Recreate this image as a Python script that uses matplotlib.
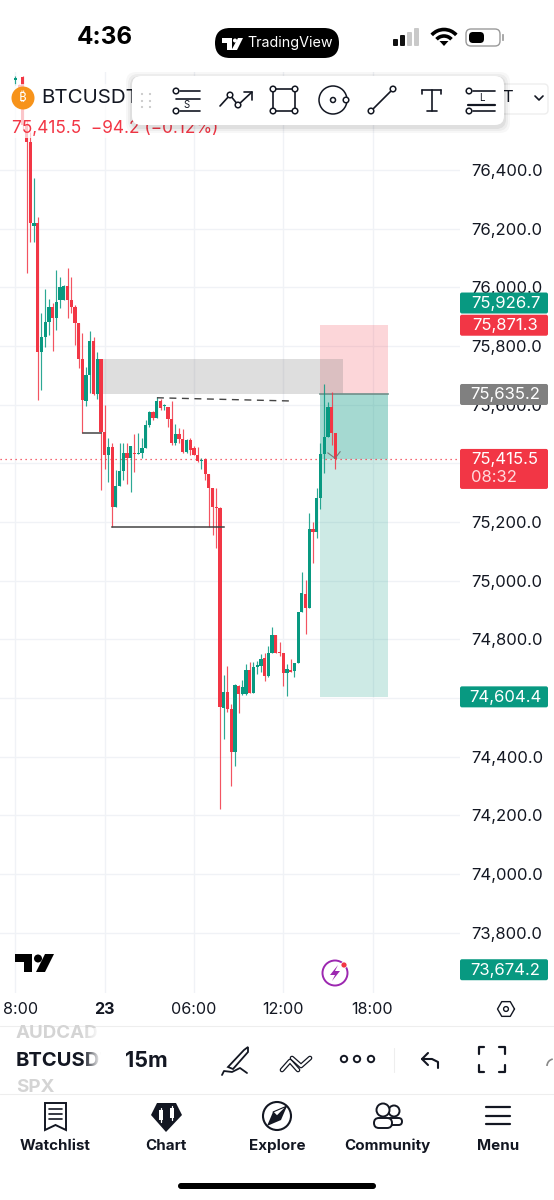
import matplotlib
matplotlib.use('Agg')
import matplotlib.pyplot as plt
from matplotlib.patches import FancyBboxPatch, Circle, Polygon, Rectangle, Arc
import numpy as np

plt.rcParams['font.family'] = ['Inter', 'DejaVu Sans']

# 15m candles, hours from the 23rd 00:00 are index * 0.25
first_index = -24
opens = [76707, 76690, 76717, 76554, 76496, 76210, 76220, 75780, 75831, 75882, 75933, 75896, 75957, 75957, 76005,
         75957, 75933, 75879, 75756, 75613, 75702, 75818, 75637, 75756, 75507, 75429, 75456, 75252, 75323, 75374,
         75436, 75419, 75436, 75432, 75436, 75453, 75531, 75575, 75555, 75613, 75596, 75593, 75552, 75470, 75500,
         75483, 75439, 75480, 75453, 75429, 75408, 75415, 75364, 75316, 75252, 75248, 74566, 74621, 74563, 74416,
         74641, 74614, 74614, 74696, 74618, 74706, 74710, 74737, 74675, 74754, 74815, 74757, 74754, 74686, 74696,
         74693, 74720, 74894, 74955, 74907, 75177, 75166, 75282, 75432, 75490, 75593, 75504]
highs = [76721, 76695, 76721, 76570, 76530, 76373, 76240, 75913, 75995, 75961, 75947, 76060, 76036, 76008, 76066,
         76036, 75940, 75879, 75845, 75729, 75852, 75831, 75780, 75756, 75599, 75487, 75470, 75378, 75470, 75470,
         75470, 75460, 75500, 75504, 75487, 75548, 75579, 75579, 75627, 75620, 75603, 75593, 75613, 75535, 75521,
         75518, 75483, 75487, 75460, 75456, 75419, 75419, 75364, 75316, 75316, 75252, 74679, 74710, 74580, 74648,
         74645, 74662, 74716, 74723, 74723, 74727, 74751, 74754, 74778, 74843, 74815, 74791, 74754, 74716, 74733,
         74720, 74894, 75030, 75003, 75231, 75201, 75316, 75470, 75671, 75610, 75644, 75504]
lows = [76690, 76660, 76537, 76049, 76155, 76155, 75616, 75650, 75797, 75838, 75783, 75855, 75930, 75957, 75896,
        75913, 75804, 75725, 75504, 75596, 75640, 75633, 75620, 75310, 75381, 75337, 75183, 75252, 75323, 75344,
        75330, 75303, 75371, 75432, 75419, 75453, 75524, 75548, 75555, 75582, 75582, 75524, 75463, 75463, 75470,
        75436, 75436, 75429, 75429, 75405, 75381, 75344, 75183, 75156, 75112, 74222, 74461, 74553, 74301, 74369,
        74549, 74611, 74611, 74618, 74618, 74682, 74689, 74658, 74672, 74754, 74754, 74744, 74641, 74607, 74689,
        74672, 74720, 74894, 74819, 74907, 75061, 75146, 75245, 75367, 75490, 75463, 75381]
closes = [76714, 76680, 76554, 76496, 76220, 76220, 75780, 75831, 75882, 75933, 75896, 75950, 76002, 76005, 75957,
          75933, 75879, 75756, 75616, 75702, 75818, 75637, 75756, 75507, 75429, 75456, 75252, 75323, 75374, 75436,
          75419, 75460, 75432, 75436, 75453, 75531, 75575, 75555, 75613, 75589, 75599, 75552, 75470, 75500, 75483,
          75439, 75480, 75446, 75429, 75408, 75412, 75364, 75316, 75252, 75248, 74570, 74621, 74563, 74416, 74645,
          74614, 74638, 74696, 74618, 74706, 74713, 74733, 74675, 74754, 74815, 74754, 74754, 74686, 74699, 74689,
          74720, 74894, 74958, 74907, 75177, 75166, 75282, 75432, 75490, 75593, 75504, 75415.5]

# 75,400 and 74,600 sit fully under their price tags so they stay blank
price_ticks = [76400, 76200, 76000, 75800, 75600, 75400, 75200, 75000, 74800, 74600, 74400, 74200, 74000, 73800]
hidden_ticks = [75400, 74600]
time_ticks = [-6, 0, 6, 12, 18]
time_labels = ['8:00', '23', '06:00', '12:00', '18:00']

# drawings on the chart
last_price = 75415.5
entry = 75635.2
stop = 75871.3
target = 74604.4
pos_start, pos_end = 14.47, 19.03
zone_start, zone_end = -0.25, 16.0
zone_low, zone_high = 75636, 75756
zone_lines = [([-1.49, -0.25], [75504, 75504]), ([0.51, 8.02], [75183, 75183])]
dash_line = ([3.51, 12.52], [75624, 75613])

# (price, shown at, text, colour) tags get pushed apart when they would collide
tags = [(75926.7, 75947, '75,926.7', '#089981'), (75871.3, 75871.3, '75,871.3', '#F23645'),
        (75635.2, 75635.2, '75,635.2', '#808080'), (74604.4, 74604.4, '74,604.4', '#089981'),
        (73674.2, 73674.2, '73,674.2', '#089981')]

GREEN = '#089981'
RED = '#F23645'
INK = '#131722'

fig = plt.figure(figsize=(5.54, 12), dpi=100, facecolor='white')

# chart pane, x 0-460 px, y 72-993 px
ax = fig.add_axes([0, 1 - 993 / 1200, 460 / 554, 921 / 1200])
ax.set_xlim(-104.7 / 14.88, (460 - 104.7) / 14.88)
ax.set_ylim(76980 - 3.409 * 993, 76980 - 3.409 * 72)
for s in ax.spines.values():
    s.set_visible(False)
ax.set_xticks(time_ticks)
ax.set_xticklabels([])
ax.set_yticks(price_ticks)
ax.set_yticklabels(['' if p in hidden_ticks else f'{p:,.1f}' for p in price_ticks], fontsize=12, color=INK)
ax.yaxis.tick_right()
ax.tick_params(length=0, pad=8)
ax.grid(color='#f0f2f6', linewidth=1)
ax.set_axisbelow(True)

# position boxes
ax.fill_between([pos_start, pos_end], entry, stop, color=RED, alpha=0.2, linewidth=0)
ax.fill_between([pos_start, pos_end], target, entry, color=GREEN, alpha=0.2, linewidth=0)
ax.fill_between([pos_start, pos_end], last_price, entry, color=GREEN, alpha=0.2, linewidth=0)
ax.plot([pos_start, pos_end], [entry, entry], color='#6f8f8a', lw=1.2)
ax.fill_between([zone_start, zone_end], zone_low, zone_high, color='#808080', alpha=0.26, linewidth=0)

# candles
n = len(opens)
t = (first_index + np.arange(n)) * 0.25
o, h, l, c = [np.array(a, dtype=float) for a in (opens, highs, lows, closes)]
colors = [GREEN if cc >= oo else RED for oo, cc in zip(o, c)]
ax.vlines(t, l, h, colors=colors, linewidth=0.85, alpha=0.85, zorder=3)
ax.bar(t, np.maximum(np.abs(c - o), 3), bottom=np.minimum(o, c), width=0.22, color=colors, linewidth=0, zorder=4)

# lines drawn by hand
for xs, ys in zone_lines:
    ax.plot(xs, ys, color='#444444', lw=1.1, zorder=5)
ax.plot(dash_line[0], dash_line[1], color='#444444', lw=1.0, dashes=(5, 4), zorder=5)
ax.axhline(last_price, color=RED, lw=0.9, ls=(0, (1, 3)), zorder=2)

# little arrow under last candle
ax.plot([15.0, 15.45], [75436, 75419], color='#777777', lw=0.8, zorder=5)
ax.plot([15.82, 15.55], [75440, 75422], color='#777777', lw=0.8, zorder=5)

# everything else in pixel coordinates
ui = fig.add_axes([0, 0, 1, 1], facecolor='none', zorder=5)
ui.set_xlim(0, 554)
ui.set_ylim(1200, 0)
ui.axis('off')


def py(price):
    return (76980 - price) / 3.409


def px(hour):
    return 104.7 + hour * 14.88


def box(x0, y0, x1, y1, color, r=2.0, **kw):
    p = FancyBboxPatch((x0 + r, y0 + r), x1 - x0 - 2 * r, y1 - y0 - 2 * r,
                       boxstyle=f'round,pad={r},rounding_size={r}', facecolor=color, edgecolor='none', **kw)
    ui.add_patch(p)
    return p


def line(xs, ys, lw=1.2, color=INK, **kw):
    ui.plot(xs, ys, color=color, lw=lw, solid_capstyle='round', **kw)


def ring(x, y, r, lw=1.1, color=INK, fc='white', z=8):
    ui.add_patch(Circle((x, y), r, facecolor=fc, edgecolor=color, lw=lw, zorder=z))


# ---- price tags
for price, shown, text, col in tags:
    y = py(shown)
    box(460, y - 10.5, 548, y + 10.5, col, zorder=6)
    ui.text(505.5, y + 0.3, text, color='white', fontsize=12, ha='center', va='center', zorder=7)
y = py(last_price)
box(460, y - 10, 548, y + 30, RED, zorder=6)
ui.text(471, y + 0.5, '75,415.5', color='white', fontsize=12, ha='left', va='center', zorder=7)
ui.text(471, y + 18.5, '08:32', color='#ffd9dd', fontsize=12, ha='left', va='center', zorder=7)

# ---- status bar
ui.text(105, 38, '4:36', fontsize=17.5, fontweight='bold', color='black', ha='center', va='center')
box(215, 28, 339, 58, 'black', r=15)
ui.add_patch(Polygon([(222, 38), (232, 38), (232, 50), (227, 50), (227, 43), (222, 43)], fc='white', ec='none'))
ui.add_patch(Circle((235, 40.5), 2, fc='white', ec='none'))
ui.add_patch(Polygon([(238, 38), (243, 38), (237, 50), (231.5, 50)], fc='white', ec='none'))
ui.text(290.5, 43.5, 'TradingView', fontsize=10.3, color='white', ha='center', va='center')
for bx, top, col in [(393, 39, '#111111'), (400, 35, '#111111'), (407, 32, '#c9c9c9'), (414, 28, '#c9c9c9')]:
    box(bx, top, bx + 5, 46, col, r=1)
ui.add_patch(Arc((444, 46), 33, 33, theta1=222, theta2=318, color='black', lw=2.6))
ui.add_patch(Arc((444, 46), 20, 20, theta1=222, theta2=318, color='black', lw=2.6))
ui.add_patch(Polygon([(444, 46), (439.5, 41), (448.5, 41)], fc='black', ec='none'))
ui.add_patch(FancyBboxPatch((466, 29), 34, 17, boxstyle='round,pad=0,rounding_size=5', fc='white', ec='#9a9a9a', lw=1))
box(469, 32, 484, 43, 'black', r=4)
box(502, 34, 504, 41, '#aaaaaa', r=0.8)

# ---- symbol header, the candles show through it
ui.add_patch(Rectangle((0, 84), 134, 54, fc='white', alpha=0.72, ec='none', zorder=2))
ui.add_patch(Circle((23, 98), 11.5, fc='#F7931A', ec='none', zorder=3))
ui.text(23, 98, '₿', fontsize=9.5, color='white', fontweight='bold', family=['Noto Sans', 'Roboto', 'Open Sans', 'Inter', 'DejaVu Sans'],
        ha='center', va='center', zorder=4)
ui.text(41, 98, 'BTCUSDT', fontsize=14.8, color=INK, va='center', zorder=3)
ui.text(12, 128, '75,415.5  −94.2 (−0.12%)', fontsize=12.4, color=RED, va='center', zorder=3)

# interval button behind the toolbar
ui.add_patch(FancyBboxPatch((490, 84), 58, 30, boxstyle='round,pad=0,rounding_size=4', fc='white', ec='#eeeeee', lw=1))
ui.text(508, 98, 'T', fontsize=12, color=INK, va='center', ha='center')
line([535, 539, 543], [96, 100, 96], lw=1.2)

# ---- floating toolbar
for grow, a in [(6, 0.03), (4, 0.04), (2, 0.06)]:
    box(132 - grow, 76 - grow + 2, 504 + grow, 125 + grow + 2, 'black', r=10, alpha=a, zorder=4)
box(132, 76, 504, 125, 'white', r=9, zorder=5)
for dx in (142, 150):
    for dy in (94, 101, 107):
        ui.add_patch(Circle((dx, dy), 1.1, fc='#c8c8c8', ec='none', zorder=8))


def tline(xs, ys, lw=1.2):
    line(xs, ys, lw=lw, zorder=7)


# S lines
tline([180, 200], [91, 91]); tline([176, 200], [99, 99]); tline([180, 200], [111, 111])
ring(176, 91, 2.8); ring(176, 111, 2.8)
ui.text(187, 105, 'S', fontsize=7, color=INK, ha='center', va='center', zorder=8)
# trend path
tline([220, 230, 238, 252], [106, 95, 105, 92]); tline([244, 252, 252], [92, 92, 100])
ring(230, 95, 2.8); ring(238, 105, 2.8)
# rectangle
ui.add_patch(Rectangle((273, 89), 22, 22, fc='none', ec=INK, lw=1.2, zorder=7))
for cx, cy in [(273, 89), (295, 89), (273, 111), (295, 111)]:
    ring(cx, cy, 2.8)
# circle
ring(333, 100, 14, z=7); ring(333, 100, 2.5); ring(346, 100, 2.8)
# line
tline([371, 393], [111, 89]); ring(371, 111, 2.8); ring(393, 89, 2.8)
# T
tline([422, 441], [90, 90]); tline([432, 432], [90, 111]); tline([427, 437], [111, 111])
tline([422, 422], [90, 94]); tline([441, 441], [90, 94])
# L lines
tline([473, 495], [91, 91]); tline([468, 495], [105, 105], lw=1.6); tline([473, 495], [111, 111])
ring(469, 91, 2.8); ring(469, 111, 2.8)
ui.text(482, 98, 'L', fontsize=7, color=INK, ha='center', va='center', zorder=8)

# ---- watermark + alert icon
ui.add_patch(Polygon([(15, 954), (32, 954), (32, 972), (24, 972), (24, 962), (15, 962)], fc='black', ec='none'))
ui.add_patch(Circle((38, 958.5), 4, fc='black', ec='none'))
ui.add_patch(Polygon([(45, 954), (54, 954), (45, 972), (36, 972)], fc='black', ec='none'))
ring(335, 973, 12.5, lw=1.4, color='#9C27B0', fc='white')
ui.add_patch(Polygon([(338, 965), (330, 975), (335, 975), (332, 981), (340, 971), (335, 971)], fc='#9C27B0', ec='none', zorder=9))
ui.add_patch(Circle((344, 965), 3, fc=RED, ec='white', lw=0.5, zorder=10))

# ---- time axis
for hour, label in zip(time_ticks, time_labels):
    if label == '8:00':
        ui.text(3, 1009, label, fontsize=11.6, color=INK, ha='left', va='center')
    elif label == '23':
        ui.text(px(hour), 1009, label, fontsize=11.6, fontweight='bold', color=INK, ha='center', va='center')
    else:
        ui.text(px(hour), 1009, label, fontsize=11.6, color=INK, ha='center', va='center')
hx = 506 + 8.5 * np.cos(np.arange(7) * np.pi / 3)
hy = 1009 + 8.5 * np.sin(np.arange(7) * np.pi / 3)
line(hx, hy, lw=1.0)
ring(506, 1009, 2.4, lw=1.0)

# ---- bottom toolbar
line([0, 554], [1026, 1026], lw=0.8, color='#eeeeee')
line([0, 554], [1094, 1094], lw=0.8, color='#eeeeee')
ui.text(16, 1034, 'AUDCAD', fontsize=13.5, fontweight='bold', color='#d4d4d4', va='center')
ui.text(16, 1087, 'SPX', fontsize=13.5, fontweight='bold', color='#d4d4d4', va='center')
ui.text(16, 1061, 'BTCUSDT', fontsize=14.5, fontweight='bold', color=INK, va='center')
ui.add_patch(Rectangle((101, 1028), 20, 64, fc='white', ec='none', zorder=3))
fade = np.ones((1, 24, 4))
fade[0, :, 3] = np.linspace(0, 1, 24)
ui.imshow(fade, extent=(83, 101, 1092, 1028), aspect='auto', zorder=3)
ui.set_xlim(0, 554)
ui.set_ylim(1200, 0)
ui.text(125, 1061, '15m', fontsize=15.5, fontweight='bold', color=INK, va='center', zorder=4)

# pen
ui.add_patch(Polygon([(228, 1067), (244, 1050), (248, 1047), (248, 1052), (233, 1069)], fc='white', ec=INK, lw=1.3))
line([222, 224, 232, 240, 247], [1075, 1071, 1072, 1068, 1073], lw=1.3)
# double chevrons
line([282, 290, 298], [1070, 1061, 1070], lw=3.4)
line([282, 290, 298], [1070, 1061, 1070], lw=1.6, color='white')
line([292, 301, 310], [1058, 1066, 1058], lw=3.4)
line([292, 301, 310], [1058, 1066, 1058], lw=1.6, color='white')
for cx in (344, 357, 371):
    ring(cx, 1059, 3.2, lw=1.4)
line([394, 394], [1048, 1072], lw=0.8, color='#eeeeee')
# undo
line([428, 422, 428], [1053, 1059, 1065], lw=1.5)
line([422, 432, 438, 438], [1059, 1059, 1062, 1068], lw=1.5)
# full screen corners
for xs, ys in [([479, 479, 484], [1054, 1047, 1047]), ([499, 505, 505], [1047, 1047, 1054]),
               ([479, 479, 484], [1065, 1072, 1072]), ([499, 505, 505], [1072, 1072, 1065])]:
    line(xs, ys, lw=1.6)
ui.add_patch(Arc((554, 1066), 14, 14, theta1=180, theta2=260, color='#888888', lw=1.2))

# ---- nav bar
ui.add_patch(Polygon([(45, 1103), (66, 1103), (66, 1130), (55.5, 1125), (45, 1130)], fc='white', ec=INK, lw=1.4))
for ly in (1109, 1114, 1119):
    line([49, 62], [ly, ly], lw=1.2)
ui.add_patch(Polygon([(157, 1103), (176, 1103), (182, 1115), (166, 1132), (151, 1115)], fc=INK, ec='none'))
for cx, y0, y1 in [(161, 1110, 1120), (172, 1108, 1118)]:
    line([cx, cx], [y0 - 2, y1 + 2], lw=0.9, color='white')
    ui.add_patch(Rectangle((cx - 2, y0), 4, y1 - y0, fc='white', ec='none'))
ring(277, 1116, 14, lw=1.5, z=3)
ui.add_patch(Polygon([(287, 1106), (281, 1120), (267, 1126), (273, 1112)], fc=INK, ec='none', zorder=4))
ui.add_patch(Polygon([(287, 1106), (277, 1116), (273, 1112)], fc='white', ec=INK, lw=0.8, zorder=5))
ring(394, 1111, 5.5, lw=1.4, z=3)
ring(383, 1110, 6.5, lw=1.4, z=4)
ui.add_patch(FancyBboxPatch((387, 1118), 15, 7, boxstyle='round,pad=0,rounding_size=3.5', fc='white', ec=INK, lw=1.4, zorder=3))
ui.add_patch(FancyBboxPatch((374, 1118), 18, 10, boxstyle='round,pad=0,rounding_size=5', fc='white', ec=INK, lw=1.4, zorder=4))
for ly in (1107, 1116, 1124):
    line([486, 510], [ly, ly], lw=1.6)
for lx, label in [(55, 'Watchlist'), (166, 'Chart'), (277, 'Explore'), (387, 'Community'), (498, 'Menu')]:
    ui.text(lx, 1146, label, fontsize=10.9, fontweight='bold', color=INK, ha='center', va='center')

box(178, 1183, 376, 1189, 'black', r=3)

fig.savefig('out.png', dpi=100)
